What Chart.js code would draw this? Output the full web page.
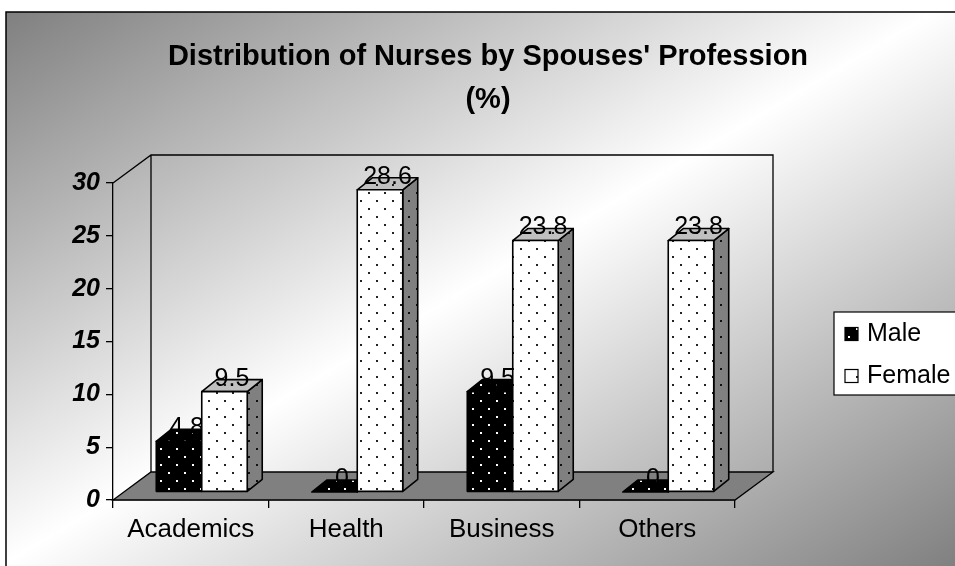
<!DOCTYPE html>
<html>
<head>
<meta charset="utf-8">
<script src="https://cdn.jsdelivr.net/npm/chart.js@4.4.0/dist/chart.umd.min.js"></script>
<style>
html, body { margin: 0; padding: 0; background: #fff; }
</style>
</head>
<body>
<canvas id="nursechart" width="955" height="566"></canvas>
<script>
let categories = ["Academics", "Health", "Business", "Others"];
let seriesNames = ["Male", "Female"];
let male = [4.8, 0, 9.5, 0];
let female = [9.5, 28.6, 23.8, 23.8];
let yTicks = [0, 5, 10, 15, 20, 25, 30];
let titleLines = ["Distribution of Nurses by Spouses' Profession", "(%)"];

const FONT = "'Liberation Sans', Arial, sans-serif";

// 3d look: how far back the walls go, where the bars sit in depth
const wallDepth = { dx: 38, dy: -28 };
const barShift = { dx: 11, dy: -8 };
const barDepth = { dx: 15, dy: -12 };

function makePattern(bg, dot) {
    const c = document.createElement("canvas");
    c.width = 16;
    c.height = 16;
    const g = c.getContext("2d");
    g.fillStyle = bg;
    g.fillRect(0, 0, 16, 16);
    g.fillStyle = dot;
    g.fillRect(0, 0, 2, 2);
    g.fillRect(8, 8, 2, 2);
    return g.createPattern(c, "repeat");
}

const ctx0 = document.getElementById("nursechart").getContext("2d");
const faces = [
    { front: makePattern("#000", "#fff"), top: makePattern("#000", "#fff"), side: makePattern("#000", "#fff") },
    { front: makePattern("#fff", "#222"), top: makePattern("#c0c0c0", "#222"), side: makePattern("#808080", "#111") }
];

function poly(ctx, pts, fill) {
    ctx.beginPath();
    ctx.moveTo(pts[0][0], pts[0][1]);
    for (let i = 1; i < pts.length; i++) ctx.lineTo(pts[i][0], pts[i][1]);
    ctx.closePath();
    if (fill) { ctx.fillStyle = fill; ctx.fill(); }
    ctx.stroke();
}

const look3d = {
    id: "look3d",
    beforeDraw(chart) {
        const ctx = chart.ctx;
        ctx.save();
        ctx.fillStyle = "#fff";
        ctx.fillRect(0, 0, chart.width, chart.height);
        const gr = ctx.createLinearGradient(229, -136, 726, 702);
        gr.addColorStop(0, "#7c7c7c");
        gr.addColorStop(0.5, "#ffffff");
        gr.addColorStop(1, "#808080");
        ctx.fillStyle = gr;
        ctx.fillRect(6, 12, chart.width, chart.height);
        ctx.strokeStyle = "#000";
        ctx.lineWidth = 1.5;
        ctx.strokeRect(6, 12, chart.width + 10, chart.height + 10);

        // title
        ctx.fillStyle = "#000";
        ctx.font = "bold 29px " + FONT;
        ctx.textAlign = "center";
        ctx.textBaseline = "middle";
        ctx.fillText(titleLines[0], 488, 57);
        ctx.fillText(titleLines[1], 488, 100);
        ctx.restore();
    },
    beforeDatasetsDraw(chart) {
        const ctx = chart.ctx;
        const a = chart.chartArea;
        const dx = wallDepth.dx, dy = wallDepth.dy;
        ctx.save();
        ctx.strokeStyle = "#000";
        ctx.lineWidth = 1.3;
        poly(ctx, [[a.left, a.bottom], [a.right, a.bottom], [a.right + dx, a.bottom + dy], [a.left + dx, a.bottom + dy]], "#808080");
        ctx.beginPath();
        ctx.moveTo(a.left, a.top);
        ctx.lineTo(a.left + dx, a.top + dy);
        ctx.lineTo(a.right + dx, a.top + dy);
        ctx.lineTo(a.right + dx, a.bottom + dy);
        ctx.moveTo(a.left + dx, a.top + dy);
        ctx.lineTo(a.left + dx, a.bottom + dy);
        ctx.stroke();
        ctx.restore();
    },
    afterDatasetsDraw(chart) {
        const ctx = chart.ctx;
        ctx.save();
        ctx.strokeStyle = "#000";
        ctx.lineWidth = 1.6;
        ctx.lineJoin = "round";
        for (let i = 0; i < categories.length; i++) {
            chart.data.datasets.forEach((ds, d) => {
                const el = chart.getDatasetMeta(d).data[i];
                const p = el.getProps(["x", "y", "base", "width"], true);
                const l = p.x - p.width / 2 + barShift.dx;
                const r = p.x + p.width / 2 + barShift.dx;
                const t = p.y + barShift.dy;
                const b = p.base + barShift.dy;
                const f = faces[d];
                const bx = barDepth.dx, by = barDepth.dy;
                poly(ctx, [[r, b], [r, t], [r + bx, t + by], [r + bx, b + by]], f.side);
                poly(ctx, [[l, t], [r, t], [r + bx, t + by], [l + bx, t + by]], f.top);
                if (b - t > 0.5) poly(ctx, [[l, t], [r, t], [r, b], [l, b]], f.front);
                ctx.fillStyle = "#000";
                ctx.font = "25px " + FONT;
                ctx.textAlign = "center";
                ctx.textBaseline = "middle";
                ctx.fillText(String(ds.data[i]), (l + r) / 2 + bx / 2, t - 13);
            });
        }
        ctx.restore();
    },
    afterDraw(chart) {
        // legend box
        const ctx = chart.ctx;
        ctx.save();
        ctx.fillStyle = "#fff";
        ctx.strokeStyle = "#000";
        ctx.lineWidth = 1.2;
        ctx.fillRect(834, 312, 140, 83);
        ctx.strokeRect(834, 312, 140, 83);
        const rows = [334, 376];
        seriesNames.forEach((name, d) => {
            ctx.fillStyle = faces[d].front;
            ctx.fillRect(845, rows[d] - 6.5, 13, 13);
            ctx.strokeRect(845, rows[d] - 6.5, 13, 13);
            ctx.fillStyle = "#000";
            ctx.font = "25px " + FONT;
            ctx.textAlign = "left";
            ctx.textBaseline = "middle";
            ctx.fillText(name, 867, rows[d]);
        });
        ctx.restore();
    }
};

new Chart(ctx0, {
    type: "bar",
    data: {
        labels: categories,
        datasets: [
            { label: seriesNames[0], data: male, backgroundColor: "rgba(0,0,0,0)", borderWidth: 0, categoryPercentage: 0.585, barPercentage: 1 },
            { label: seriesNames[1], data: female, backgroundColor: "rgba(0,0,0,0)", borderWidth: 0, categoryPercentage: 0.585, barPercentage: 1 }
        ]
    },
    options: {
        responsive: false,
        animation: false,
        events: [],
        layout: { padding: { left: 0, top: 183, right: 220, bottom: 0 } },
        plugins: {
            legend: { display: false },
            title: { display: false },
            tooltip: { enabled: false }
        },
        scales: {
            x: {
                grid: { drawOnChartArea: false, drawTicks: true, tickLength: 8, color: "#000", lineWidth: 1.3, offset: true },
                border: { color: "#000", width: 1.3 },
                ticks: { font: { family: FONT, size: 26 }, color: "#000", padding: 6, maxRotation: 0 },
                afterFit: s => { s.height = 66; }
            },
            y: {
                min: 0,
                max: 30,
                afterBuildTicks: s => { s.ticks = yTicks.map(v => ({ value: v })); },
                grid: { drawOnChartArea: false, drawTicks: true, tickLength: 7, color: "#000", lineWidth: 1.3 },
                border: { color: "#000", width: 1.3 },
                ticks: { font: { family: FONT, size: 25, weight: "bold", style: "italic" }, color: "#000", padding: 6 },
                afterFit: s => { s.width = 113; }
            }
        }
    },
    plugins: [look3d]
});
</script>
</body>
</html>
